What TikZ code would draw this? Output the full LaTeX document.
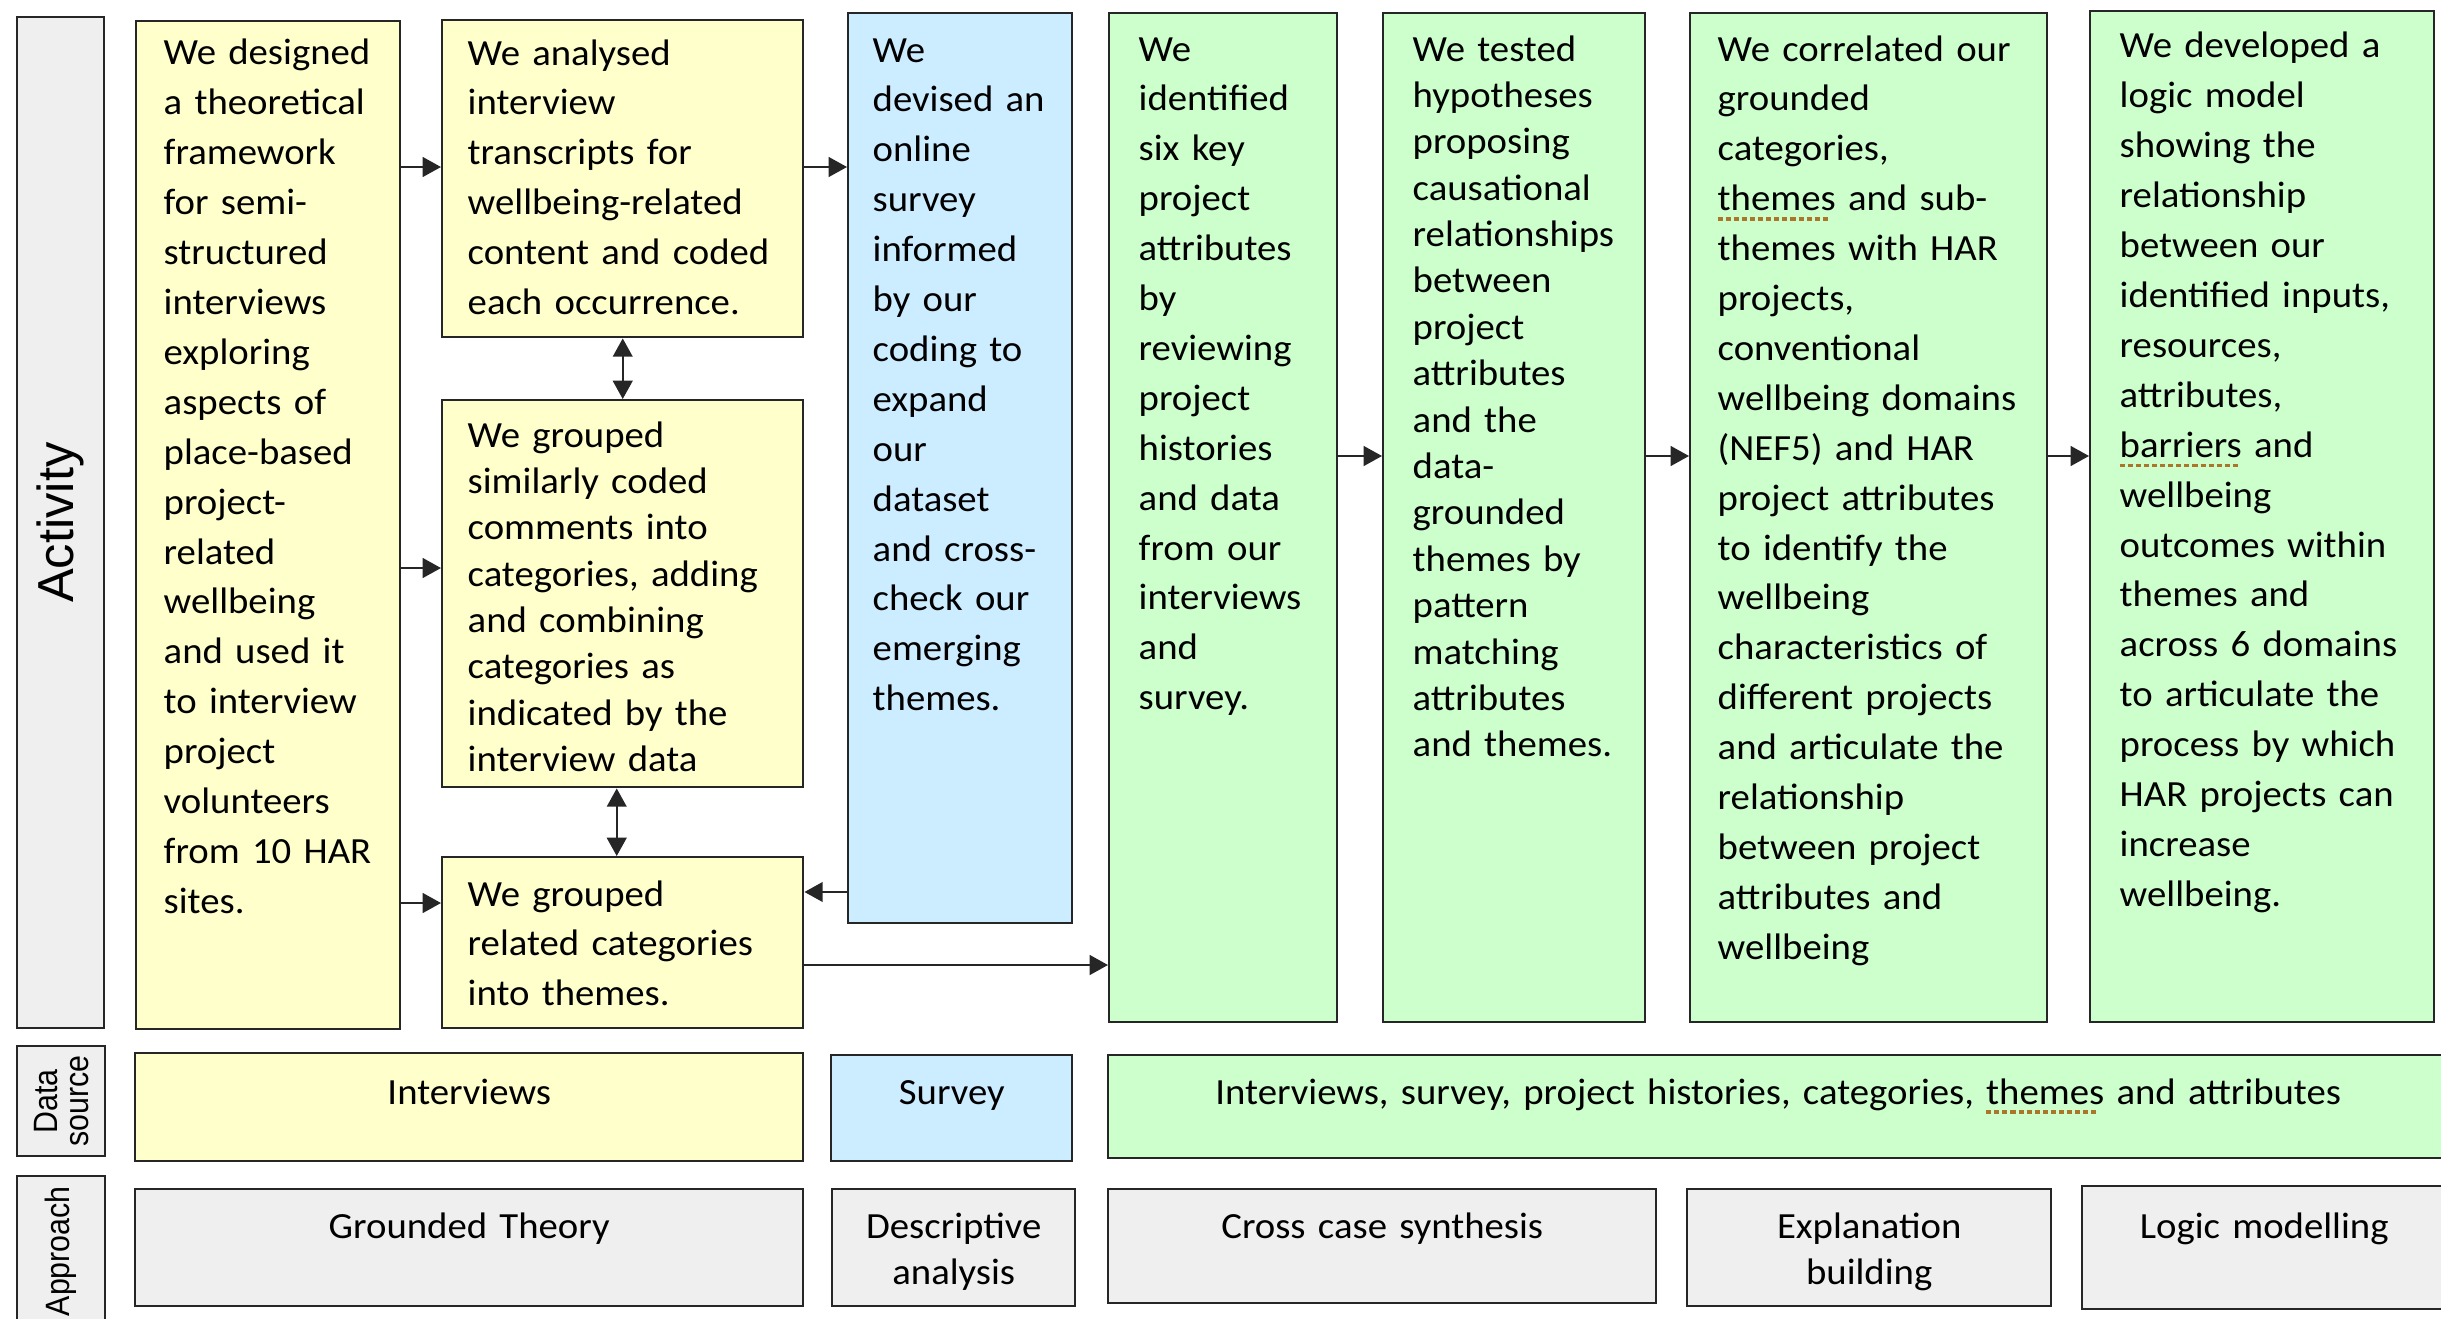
\documentclass[tikz,border=0pt]{standalone}
\usepackage{fontspec}
\usetikzlibrary{arrows.meta}
\newfontfamily\bodyfont{Carlito}[FakeStretch=1.05]
\newfontfamily\sidefont{Liberation Sans}
\newfontfamily\sidenarrow{Liberation Sans}[FakeStretch=0.9]
\definecolor{paleyellow}{HTML}{FFFFCC}
\definecolor{paleblue}{HTML}{CCECFF}
\definecolor{palegreen}{HTML}{CCFFCC}
\definecolor{palegrey}{HTML}{EFEFEF}
\definecolor{flagbrown}{RGB}{172,118,42}
% dotted proofing mark under a word
\newsavebox\flagbox
\newcommand\flagged[1]{\leavevmode\sbox\flagbox{#1}\rlap{\hbox to \wd\flagbox{\leaders\hbox{\textcolor{flagbrown}{\rule[-2.9pt]{1.45pt}{1.1pt}}\kern0.85pt}\hfill}}\usebox\flagbox}
\tikzset{
  stage/.style={draw=black!85, line width=0.7pt, anchor=north west, inner sep=0pt},
  interview/.style={stage, fill=paleyellow},
  survey/.style={stage, fill=paleblue},
  synthesis/.style={stage, fill=palegreen},
  method/.style={stage, fill=palegrey},
  rowlabel/.style={stage, fill=palegrey},
  words/.style={anchor=base west, inner sep=0pt, align=left, font=\bodyfont\fontsize{10.5}{14.2}\selectfont},
  tight/.style={font=\bodyfont\fontsize{10.5}{13.2}\selectfont},
  centred/.style={anchor=base, inner sep=0pt, align=center, font=\bodyfont\fontsize{10.5}{13.1}\selectfont},
  sidetext/.style={rotate=90, inner sep=0pt, align=center, font=\sidenarrow\fontsize{9.6}{8.8}\selectfont},
  >={Triangle[length=5.2pt,width=5.6pt]},
  link/.style={draw=black!85, line width=0.6pt, ->},
  twoway/.style={draw=black!85, line width=0.6pt, <->}
}

\begin{document}
\begin{tikzpicture}[x=1cm,y=-1cm]
\useasboundingbox (0,0) rectangle (24.41,13.19);
\clip (0,0) rectangle (24.41,13.19);

% row labels
\node[rowlabel, minimum width=0.87cm, minimum height=10.11cm] (actLabel) at (0.16,0.16) {};
\node[sidetext, font=\sidefont\fontsize{14.4}{16}\selectfont] (actText) at (actLabel.center) {Activity};
\node[rowlabel, minimum width=0.88cm, minimum height=1.10cm] (srcLabel) at (0.16,10.45) {};
\node[sidetext] (srcText) at (srcLabel.center) {Data\\source};
\node[rowlabel, minimum width=0.88cm, minimum height=1.50cm] (appLabel) at (0.16,11.75) {};
\node[sidetext] (appText) at (appLabel.center) {Approach};

% activity
\node[interview, minimum width=2.64cm, minimum height=10.08cm] (design) at (1.35,0.20) {};
\node[interview, minimum width=3.61cm, minimum height=3.17cm] (analyse) at (4.41,0.19) {};
\node[interview, minimum width=3.61cm, minimum height=3.87cm] (similar) at (4.41,3.99) {};
\node[interview, minimum width=3.61cm, minimum height=1.71cm] (themes) at (4.41,8.56) {};
\node[survey, minimum width=2.24cm, minimum height=9.10cm] (online) at (8.47,0.12) {};
\node[synthesis, minimum width=2.28cm, minimum height=10.09cm] (identify) at (11.08,0.12) {};
\node[synthesis, minimum width=2.62cm, minimum height=10.09cm] (hypo) at (13.82,0.12) {};
\node[synthesis, minimum width=3.57cm, minimum height=10.09cm] (correlate) at (16.89,0.12) {};
\node[synthesis, minimum width=3.44cm, minimum height=10.11cm] (logic) at (20.89,0.10) {};

\node[words, text width=2.3cm] (designText) at ([shift={(0.28,0.45)}]design.north west)
  {We designed\\a theoretical\\framework\\for semi-\\structured\\interviews\\exploring\\aspects of\\place-based\\project-\\related\\wellbeing\\and used it\\to interview\\project\\volunteers\\from 10 HAR\\sites.};
\node[words, text width=3.3cm] (analyseText) at ([shift={(0.26,0.46)}]analyse.north west)
  {We analysed\\interview\\transcripts for\\wellbeing-related\\content and coded\\each occurrence.};
\node[words, tight, text width=3.3cm] (similarText) at ([shift={(0.26,0.48)}]similar.north west)
  {We grouped\\similarly coded\\comments into\\categories, adding\\and combining\\categories as\\indicated by the\\interview data};
\node[words, text width=3.3cm] (themesText) at ([shift={(0.26,0.50)}]themes.north west)
  {We grouped\\related categories\\into themes.};
\node[words, text width=1.9cm] (onlineText) at ([shift={(0.25,0.50)}]online.north west)
  {We\\devised an\\online\\survey\\informed\\by our\\coding to\\expand\\our\\dataset\\and cross-\\check our\\emerging\\themes.};
\node[words, text width=1.9cm] (identifyText) at ([shift={(0.30,0.49)}]identify.north west)
  {We\\identified\\six key\\project\\attributes\\by\\reviewing\\project\\histories\\and data\\from our\\interviews\\and\\survey.};
\node[words, tight, text width=2.25cm] (hypoText) at ([shift={(0.30,0.49)}]hypo.north west)
  {We tested\\hypotheses\\proposing\\causational\\relationships\\between\\project\\attributes\\and the\\data-\\grounded\\themes by\\pattern\\matching\\attributes\\and themes.};
\node[words, text width=3.2cm] (correlateText) at ([shift={(0.28,0.49)}]correlate.north west)
  {We correlated our\\grounded\\categories,\\\flagged{themes} and sub-\\themes with HAR\\projects,\\conventional\\wellbeing domains\\(NEF5) and HAR\\project attributes\\to identify the\\wellbeing\\characteristics of\\different projects\\and articulate the\\relationship\\between project\\attributes and\\wellbeing};
\node[words, text width=3.05cm] (logicText) at ([shift={(0.30,0.48)}]logic.north west)
  {We developed a\\logic model\\showing the\\relationship\\between our\\identified inputs,\\resources,\\attributes,\\\flagged{barriers} and\\wellbeing\\outcomes within\\themes and\\across 6 domains\\to articulate the\\process by which\\HAR projects can\\increase\\wellbeing.};

% data source
\node[interview, minimum width=6.68cm, minimum height=1.08cm] (intSrc) at (1.34,10.52) {};
\node[survey, minimum width=2.41cm, minimum height=1.06cm] (survSrc) at (8.30,10.54) {};
\node[synthesis, minimum width=13.40cm, minimum height=1.03cm] (allSrc) at (11.07,10.54) {};
\node[centred, text width=6.6cm] (intSrcText) at ([yshift=-0.52cm]intSrc.north) {Interviews};
\node[centred, text width=2.3cm] (survSrcText) at ([yshift=-0.50cm]survSrc.north) {Survey};
\node[centred, text width=13.3cm] (allSrcText) at ([yshift=-0.50cm]allSrc.north)
  {Interviews, survey, project histories, categories, \flagged{themes} and attributes};

% approach
\node[method, minimum width=6.68cm, minimum height=1.17cm] (grounded) at (1.34,11.88) {};
\node[method, minimum width=2.43cm, minimum height=1.17cm] (descr) at (8.31,11.88) {};
\node[method, minimum width=5.48cm, minimum height=1.14cm] (cross) at (11.07,11.88) {};
\node[method, minimum width=3.64cm, minimum height=1.17cm] (explain) at (16.86,11.88) {};
\node[method, minimum width=3.64cm, minimum height=1.23cm] (logicMod) at (20.81,11.85) {};
\node[centred, text width=6.6cm] (groundedText) at ([yshift=-0.50cm]grounded.north) {Grounded Theory};
\node[centred, text width=2.3cm] (descrText) at ([yshift=-0.50cm]descr.north) {Descriptive\\analysis};
\node[centred, text width=5.4cm] (crossText) at ([yshift=-0.50cm]cross.north) {Cross case synthesis};
\node[centred, text width=3.5cm] (explainText) at ([yshift=-0.50cm]explain.north) {Explanation\\building};
\node[centred, text width=3.5cm] (logicModText) at ([yshift=-0.53cm]logicMod.north) {Logic modelling};

% arrows
\coordinate (rowA) at (0,1.67);
\coordinate (rowB) at (0,5.68);
\coordinate (rowC) at (0,9.03);
\coordinate (rowD) at (0,8.92);
\coordinate (rowE) at (0,9.65);
\coordinate (rowF) at (0,4.56);
\draw[link] (design.east |- rowA) -- (analyse.west |- rowA);
\draw[link] (design.east |- rowB) -- (similar.west |- rowB);
\draw[link] (design.east |- rowC) -- (themes.west |- rowC);
\draw[link] (analyse.east |- rowA) -- (online.west |- rowA);
\draw[link] (online.west |- rowD) -- (themes.east |- rowD);
\draw[link] (themes.east |- rowE) -- (identify.west |- rowE);
\draw[link] (identify.east |- rowF) -- (hypo.west |- rowF);
\draw[link] (hypo.east |- rowF) -- (correlate.west |- rowF);
\draw[link] (correlate.east |- rowF) -- (logic.west |- rowF);
\draw[twoway] (analyse.south) -- (similar.north);
\draw[twoway] ([xshift=-0.06cm]similar.south) -- ([xshift=-0.06cm]themes.north);
\end{tikzpicture}
\end{document}
